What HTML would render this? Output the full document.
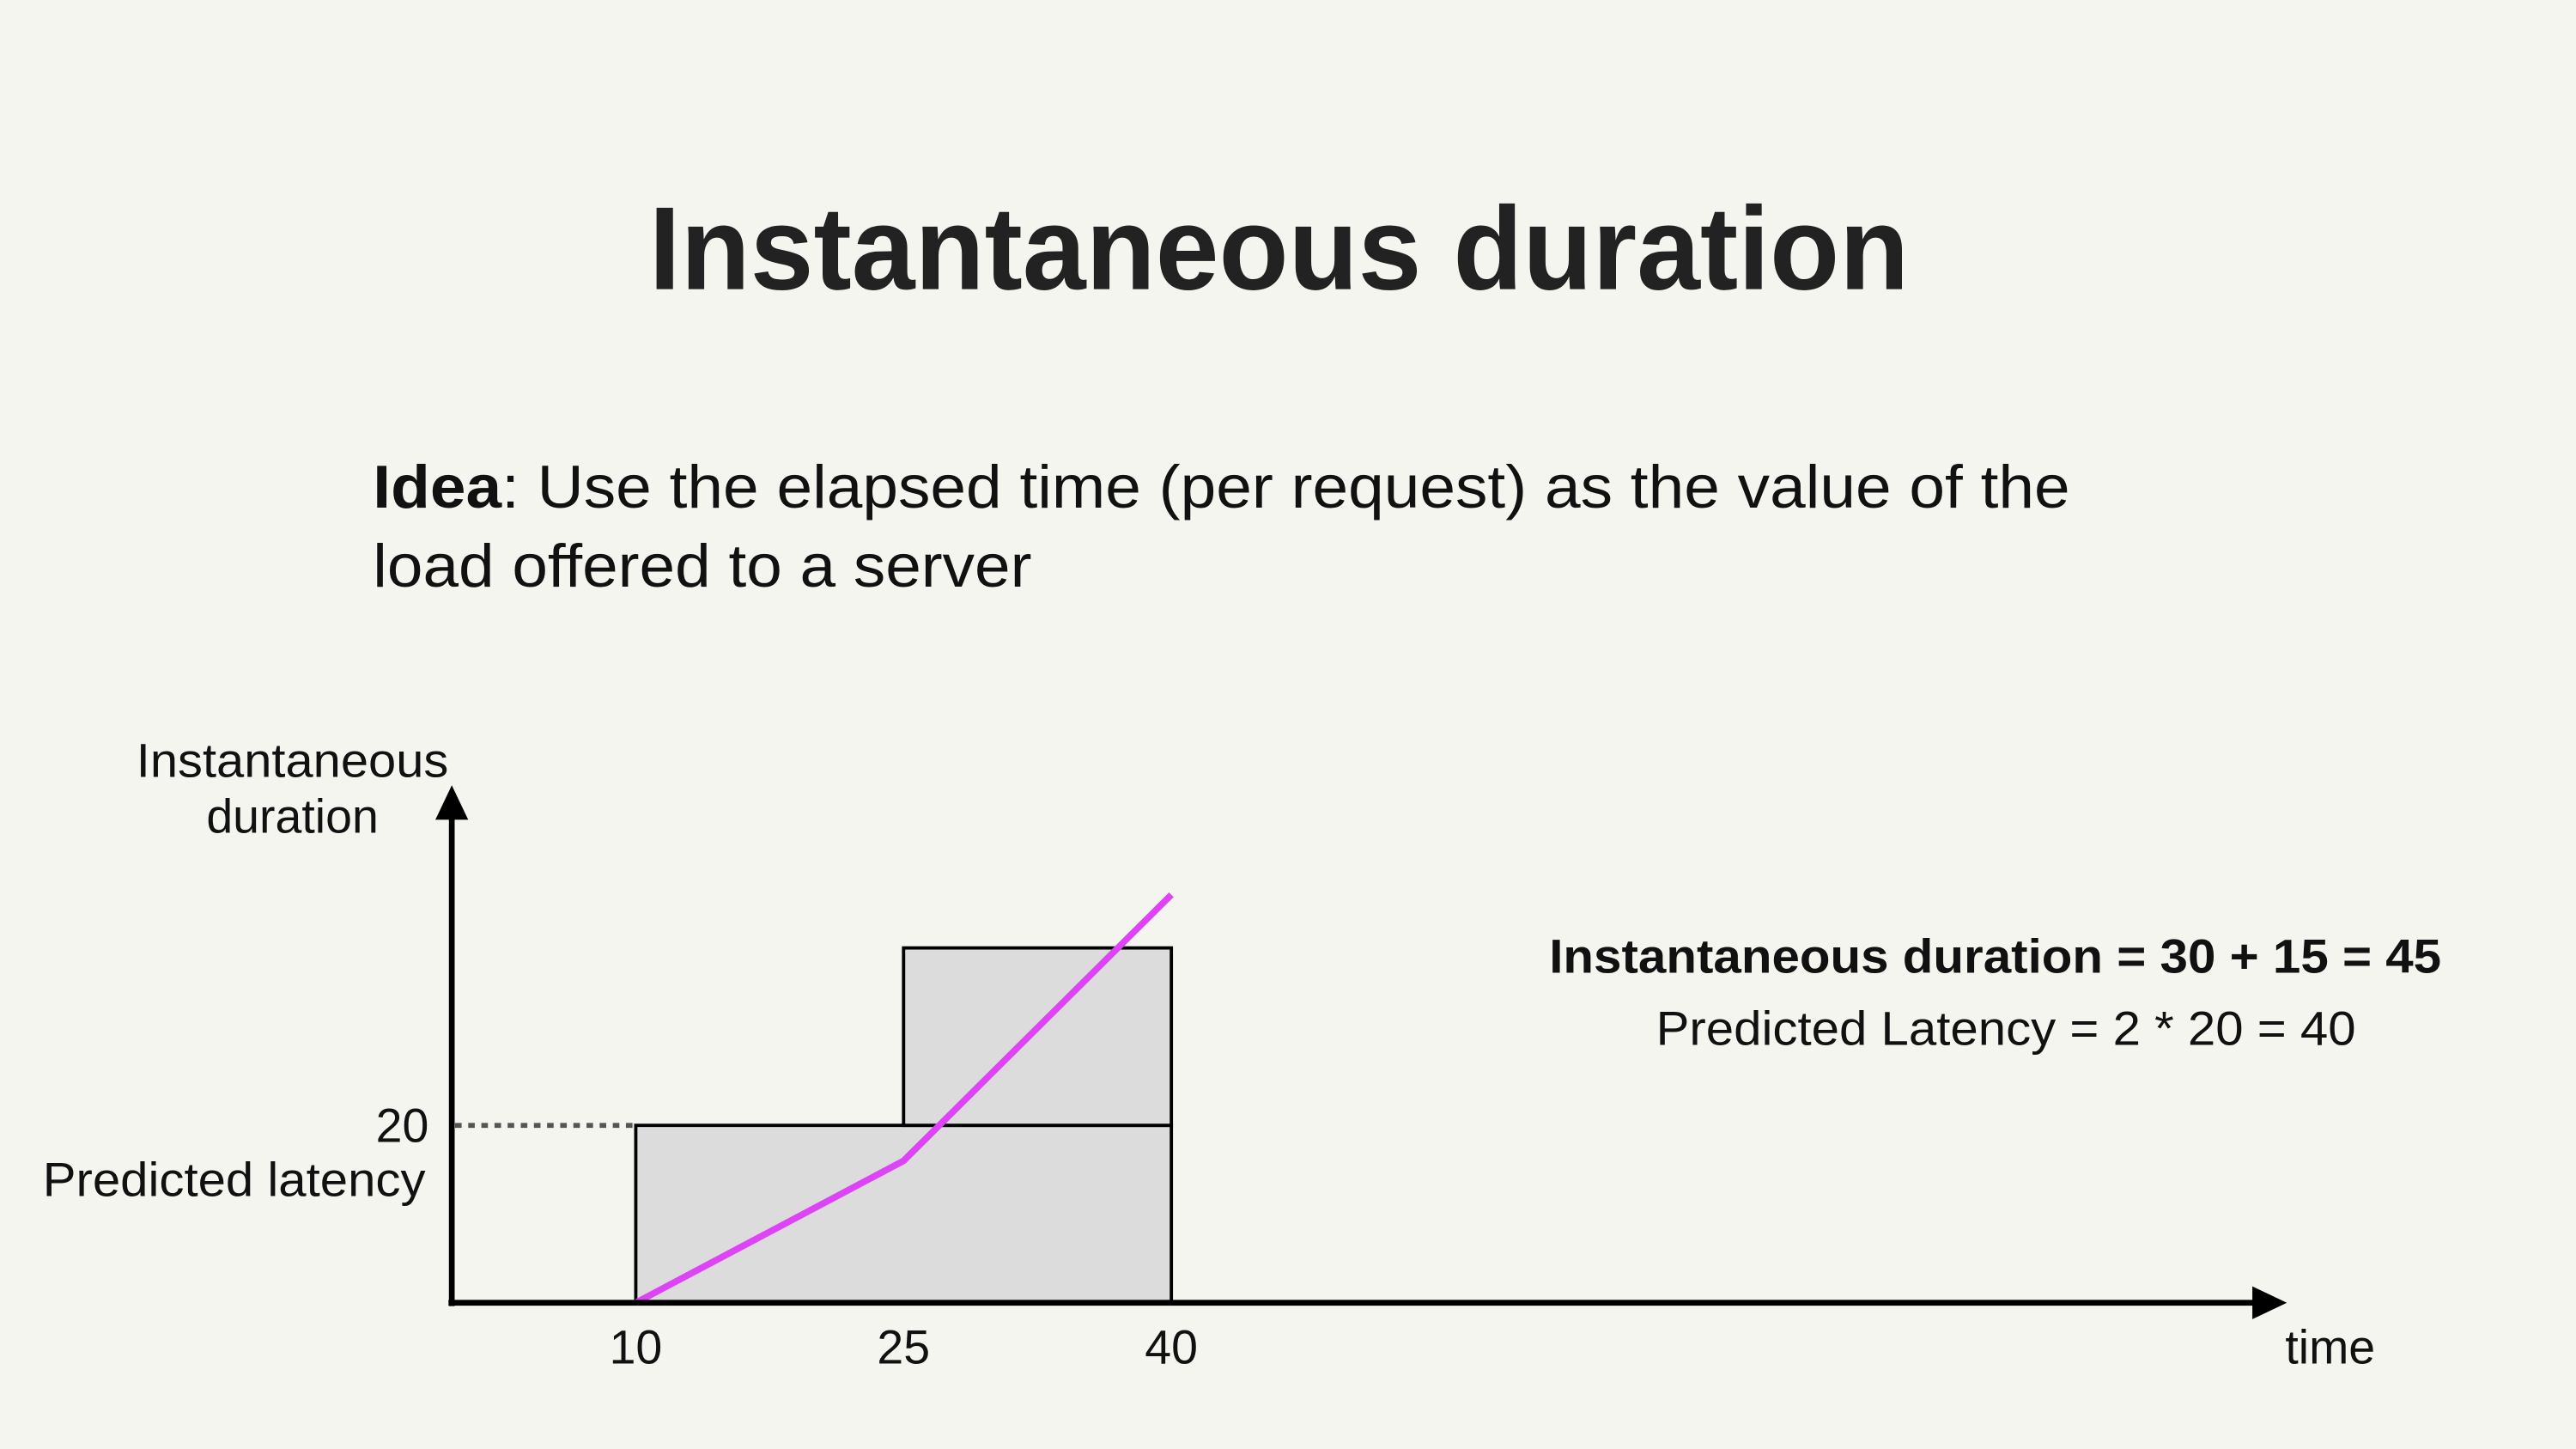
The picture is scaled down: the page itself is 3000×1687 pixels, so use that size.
<!DOCTYPE html>
<html><head><meta charset="utf-8"><style>
html,body{margin:0;padding:0;background:#f5f5f0;}
svg{display:block;}
text{font-family:"Liberation Sans",Arial,sans-serif;fill:#111;}
</style></head><body>
<svg id="chart" width="3000" height="1687" viewBox="0 0 1568 882" preserveAspectRatio="none" xmlns="http://www.w3.org/2000/svg">
<rect width="1568" height="882" fill="#f5f5f0"/>
<text x="395" y="176" font-size="72" font-weight="bold" textLength="767" lengthAdjust="spacingAndGlyphs" style="fill:#222">Instantaneous duration</text>
<text x="227" y="309" font-size="37" textLength="1033" lengthAdjust="spacingAndGlyphs"><tspan font-weight="bold">Idea</tspan>: Use the elapsed time (per request) as the value of the</text>
<text x="227" y="357" font-size="37" textLength="401" lengthAdjust="spacingAndGlyphs">load offered to a server</text>
<text x="83" y="473" font-size="29" textLength="190" lengthAdjust="spacingAndGlyphs">Instantaneous</text>
<text x="178" y="507" font-size="29" text-anchor="middle">duration</text>
<text x="26" y="728" font-size="29" textLength="233" lengthAdjust="spacingAndGlyphs">Predicted latency</text>
<text x="943" y="592" font-size="29" font-weight="bold" textLength="543" lengthAdjust="spacingAndGlyphs">Instantaneous duration = 30 + 15 = 45</text>
<text x="1008" y="636" font-size="29" textLength="426" lengthAdjust="spacingAndGlyphs">Predicted Latency = 2 * 20 = 40</text>
<text x="1391" y="830" font-size="29">time</text>
<g id="plot"></g>
</svg>
<script>
const xTicks = [10, 25, 40];
const yTicks = [20];
const barStarts = [10, 25];
const barEnds = [40, 40];
const barBottoms = [0, 20];
const barTops = [20, 40];
const lineTimes = [10, 25, 40];
const lineValues = [0, 16, 46];

const X0 = 275, Y0 = 793;
function xs(t){ return 387 + (t - 10) * (713 - 387) / 30; }
function ys(v){ return Y0 - v * (793 - 685) / 20; }
const NS = "http://www.w3.org/2000/svg";
const g = document.getElementById('plot');
function mk(tag, attrs){ const e = document.createElementNS(NS, tag); for (const k in attrs) e.setAttribute(k, attrs[k]); g.appendChild(e); return e; }

for (let i = 0; i < barStarts.length; i++) {
  const r = mk('rect', {x: xs(barStarts[i]), y: ys(barTops[i]), width: xs(barEnds[i]) - xs(barStarts[i]), height: ys(barBottoms[i]) - ys(barTops[i]), fill: '#dcdcdc', stroke: '#000', 'stroke-width': 2});
  
  
}
yTicks.forEach(v => {
  const d = mk('line', {x1: X0 + 2, y1: ys(v), x2: xs(10), y2: ys(v), stroke: '#555', 'stroke-width': 3, 'stroke-dasharray': '4 4'});
  
  
  const t = mk('text', {x: 261, y: ys(v) + 10, 'font-size': 29, 'text-anchor': 'end'});
  t.textContent = v;
  
  
});
const pl = mk('polyline', {points: lineTimes.map((t, i) => xs(t) + ',' + ys(lineValues[i])).join(' '), fill: 'none', stroke: '#dd44f5', 'stroke-width': 4});


xTicks.forEach(v => {
  const t = mk('text', {x: xs(v), y: 830, 'font-size': 29, 'text-anchor': 'middle'});
  t.textContent = v;
  
  
});
const ya = mk('line', {x1: X0, y1: Y0 + 2, x2: X0, y2: 496, stroke: '#000', 'stroke-width': 3.5});


const yh = mk('polygon', {points: '265,499 285,499 275,478', fill: '#000'});


const xa = mk('line', {x1: X0 - 2, y1: Y0, x2: 1374, y2: Y0, stroke: '#000', 'stroke-width': 3.5});


const xh = mk('polygon', {points: '1371,783 1371,803 1392,793', fill: '#000'});


</script>
</body></html>
